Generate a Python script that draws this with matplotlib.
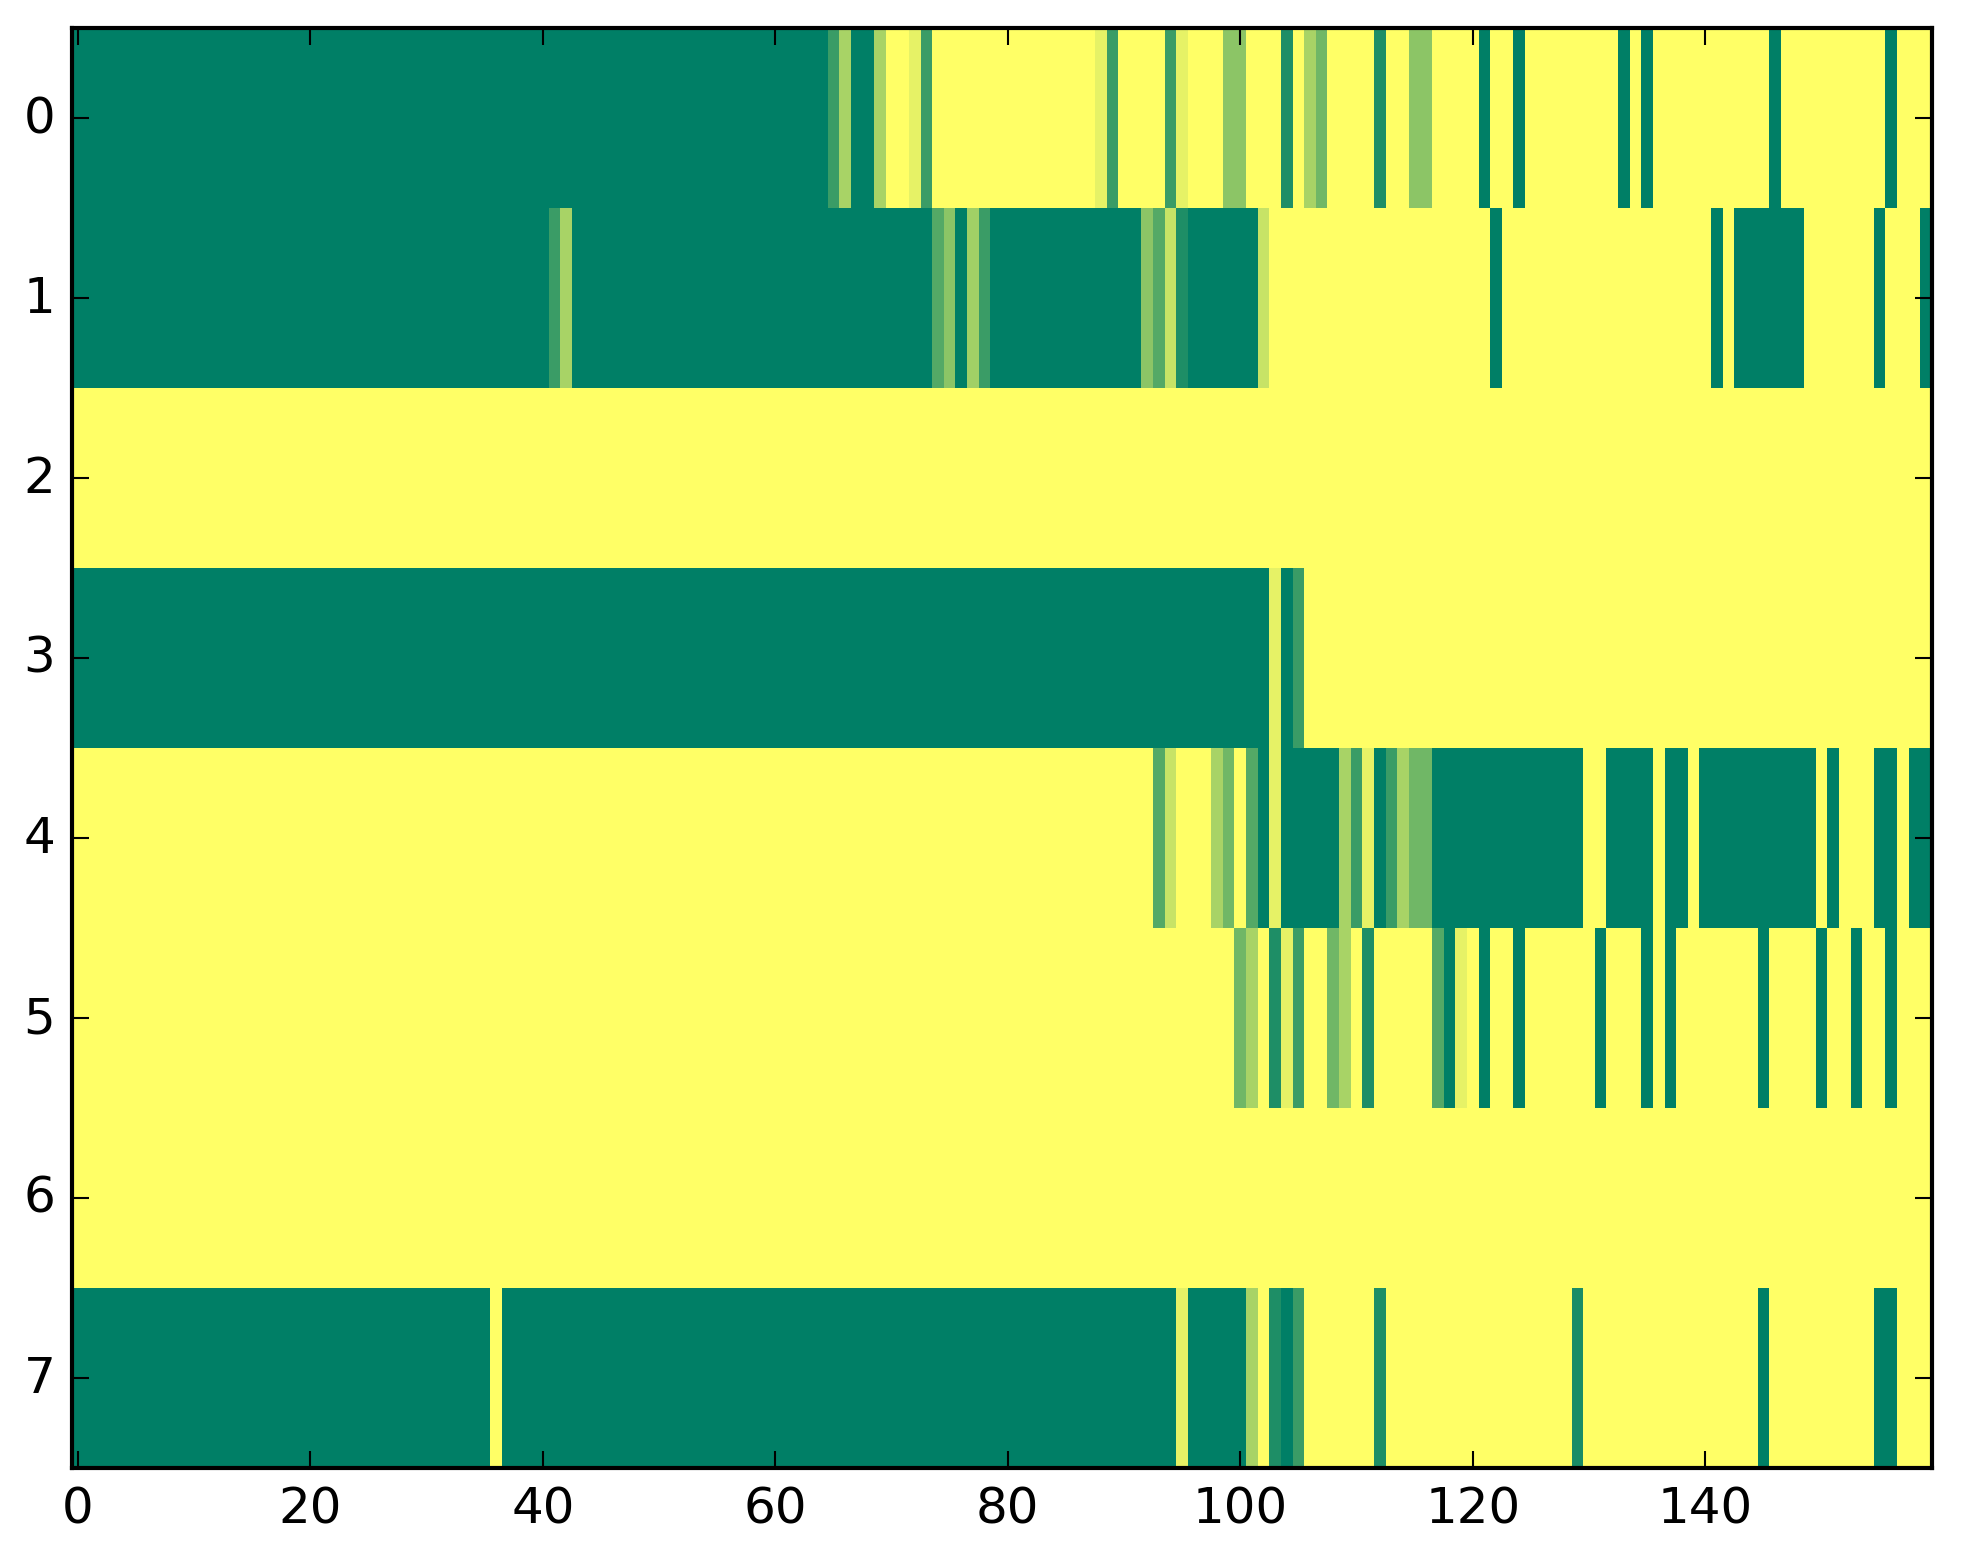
import matplotlib
matplotlib.use("Agg")
import matplotlib.pyplot as plt
import numpy as np

# kazdy wiersz zapisany jako pary (wartosc, ile kolumn pod rzad)
wiersz0 = [(0, 65), (0.23, 1), (0.66, 1), (0, 2), (0.66, 1), (1, 2), (0.9, 1), (0.23, 1),
           (1, 14), (0.9, 1), (0.23, 1), (1, 4), (0.23, 1), (0.9, 1), (1, 3), (0.55, 2),
           (1, 3), (0.12, 1), (1, 1), (0.66, 1), (0.44, 1), (1, 4), (0.12, 1), (1, 2),
           (0.55, 2), (1, 4), (0, 1), (1, 2), (0, 1), (1, 8), (0, 1), (1, 1), (0, 1),
           (1, 10), (0, 1), (1, 9), (0, 1), (1, 3)]
wiersz1 = [(0, 41), (0.23, 1), (0.66, 1), (0, 31), (0.33, 1), (0.55, 1), (0, 1), (0.63, 1),
           (0.23, 1), (0, 13), (0.55, 1), (0.33, 1), (0.78, 1), (0.12, 1), (0, 6), (0.78, 1),
           (1, 19), (0, 1), (1, 18), (0, 1), (1, 1), (0, 6), (1, 6), (0, 1), (1, 3), (0, 1)]
wiersz2 = [(1, 160)]
wiersz3 = [(0, 103), (0.9, 1), (0, 1), (0.23, 1), (1, 54)]
wiersz4 = [(1, 93), (0.33, 1), (0.78, 1), (1, 3), (0.66, 1), (0.44, 1), (1, 1), (0.33, 1),
           (0, 1), (0.9, 1), (0, 5), (0.66, 1), (0.23, 1), (0.9, 1), (0, 1), (0.23, 1),
           (0.66, 1), (0.44, 2), (0, 13), (1, 2), (0, 4), (1, 1), (0, 2), (1, 1), (0, 10),
           (1, 1), (0, 1), (1, 3), (0, 2), (1, 1), (0, 2)]
wiersz5 = [(1, 100), (0.44, 1), (0.66, 1), (1, 1), (0.12, 1), (0.9, 1), (0.23, 1), (1, 2),
           (0.44, 1), (0.66, 1), (1, 1), (0.12, 1), (1, 5), (0.33, 1), (0, 1), (0.9, 1),
           (1, 1), (0, 1), (1, 2), (0, 1), (1, 6), (0, 1), (1, 3), (0, 1), (1, 1), (0, 1),
           (1, 7), (0, 1), (1, 4), (0, 1), (1, 2), (0, 1), (1, 2), (0, 1), (1, 3)]
wiersz6 = [(1, 160)]
wiersz7 = [(0, 36), (1, 1), (0, 58), (0.9, 1), (0, 5), (0.66, 1), (1, 1), (0.12, 1), (0, 1),
           (0.23, 1), (1, 6), (0.12, 1), (1, 16), (0.1, 1), (1, 15), (0, 1), (1, 9), (0, 2),
           (1, 3)]

l_wiersze = [wiersz0, wiersz1, wiersz2, wiersz3, wiersz4, wiersz5, wiersz6, wiersz7]


def rozwin(arg_wiersz):
    wynik = []
    for wartosc, ile in arg_wiersz:
        wynik = wynik + [wartosc] * ile
    return wynik


macierz = np.array([rozwin(w) for w in l_wiersze])
print(macierz.shape)

plt.style.use("classic")
fig = plt.figure(figsize=(1963 / 300, 1564 / 300), dpi=300, facecolor="white")
ax = fig.add_axes([72 / 1963, 1 - 1469 / 1564, 1860 / 1963, 1440 / 1564])
ax.imshow(macierz, cmap="summer", aspect="auto", interpolation="nearest", vmin=0, vmax=1)
ax.set_xticks(np.arange(0, 160, 20))
ax.set_yticks(np.arange(0, 8, 1))
ax.tick_params(labelsize=12)

fig.savefig("out.png", dpi=300, facecolor="white")
